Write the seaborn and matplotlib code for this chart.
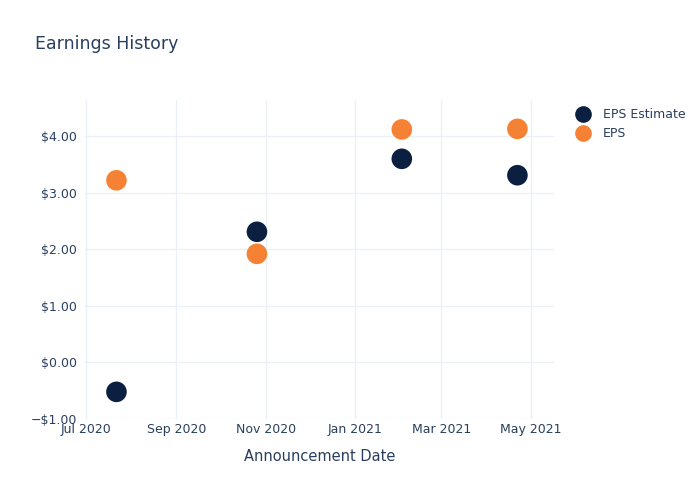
import matplotlib
matplotlib.use("Agg")
import matplotlib.pyplot as plt
import matplotlib.dates as mdates
from matplotlib.ticker import FuncFormatter, FixedLocator
import seaborn as sns
import pandas as pd

dates = ["2020-07-22", "2020-10-26", "2021-02-02", "2021-04-22"]
eps_estimate = [-0.52, 2.31, 3.60, 3.31]
eps_actual = [3.22, 1.92, 4.12, 4.13]
series_names = ["EPS Estimate", "EPS"]
colors = {"EPS Estimate": "#0B1F41", "EPS": "#F58234"}

df = pd.DataFrame({
    "date": pd.to_datetime(dates * 2),
    "value": eps_estimate + eps_actual,
    "series": [series_names[0]] * 4 + [series_names[1]] * 4,
})

sns.set_style("white")
plt.rcParams['font.family'] = ['DejaVu Sans']
text_color = "#2A3F5F"
grid_color = "#EBF0F8"

fig = plt.figure(figsize=(7, 5), dpi=100)
ax = fig.add_axes([85/700, 1 - 419/500, (554-85)/700, (419-100)/500])

sns.scatterplot(data=df, x="date", y="value", hue="series", palette=colors,
                s=220, edgecolor="none", ax=ax, zorder=3)

ax.set_xlim(pd.Timestamp("2020-06-30 12:00"), pd.Timestamp("2021-05-17"))
ax.set_ylim(-1.0, 4.64)

ax.xaxis.set_major_locator(mdates.MonthLocator(bymonth=[1, 3, 5, 7, 9, 11]))
ax.xaxis.set_major_formatter(mdates.DateFormatter("%b %Y"))
ax.yaxis.set_major_locator(FixedLocator([-1, 0, 1, 2, 3, 4]))
ax.yaxis.set_major_formatter(FuncFormatter(
    lambda v, p: ("\u2212$%.2f" % abs(v)) if v < 0 else ("$%.2f" % v)))

ax.grid(True, color=grid_color, linewidth=1)
ax.set_axisbelow(True)
for sp in ax.spines.values():
    sp.set_visible(False)
ax.tick_params(axis="x", length=0, labelsize=9, colors=text_color, pad=3)
ax.tick_params(axis="y", length=0, labelsize=9, colors=text_color, pad=6)

ax.set_xlabel("Announcement Date", fontsize=10.5, color=text_color, labelpad=9)
ax.set_ylabel("")

fig.text(35/700, 1 - 44/500, "Earnings History", fontsize=12.5, color=text_color,
         va="center", ha="left")

leg = ax.legend(loc="upper left", bbox_to_anchor=(1.025, 0.99), frameon=False,
                fontsize=9, labelcolor=text_color, handletextpad=0.6,
                borderaxespad=0)
for h in leg.legend_handles:
    if hasattr(h, "set_markersize"):
        h.set_markersize(12)

fig.savefig("out.png", dpi=100, facecolor="white")
